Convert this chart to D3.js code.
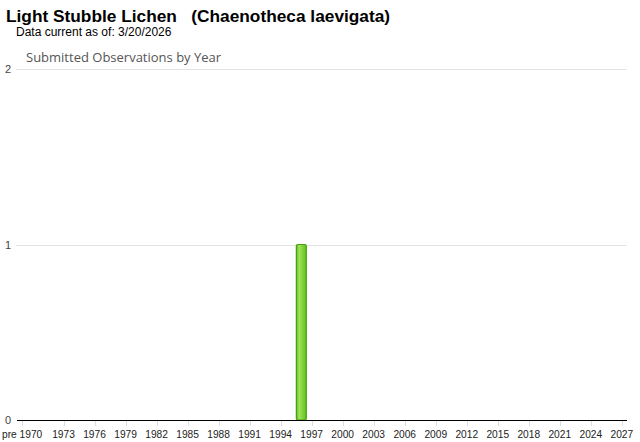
<!DOCTYPE html>
<html><head><meta charset="utf-8">
<script src="https://cdn.jsdelivr.net/npm/d3@7"></script>
<style>body{margin:0;background:#fff}svg{display:block}</style>
</head><body>
<svg id="chart" width="640" height="442"></svg>
<script>
const titleText = "Light Stubble Lichen\u00a0\u00a0\u00a0(Chaenotheca laevigata)";
const subtitleText = "Data current as of: 3/20/2026";
const axisTitle = "Submitted Observations by Year";
const years = ["pre 1970"];
for (let y = 1970; y <= 2027; y++) years.push(String(y));
const counts = years.map(y => y === "1996" ? 1 : 0);
const xTickLabels = ["pre 1970","1973","1976","1979","1982","1985","1988","1991","1994","1997","2000","2003","2006","2009","2012","2015","2018","2021","2024","2027"];
const yTicks = [0, 1, 2];

const svg = d3.select("#chart");
const x = d3.scaleBand().domain(years).range([17, 627]).padding(0);
const y = d3.scaleLinear().domain([0, 2]).range([420, 69]);

const defs = svg.append("defs");
const g = defs.append("linearGradient").attr("id","barg").attr("x1","0").attr("x2","1").attr("y1","0").attr("y2","0");
g.append("stop").attr("offset","0%").attr("stop-color","#5fbf1c");
g.append("stop").attr("offset","30%").attr("stop-color","#a2e262");
g.append("stop").attr("offset","55%").attr("stop-color","#88d541");
g.append("stop").attr("offset","100%").attr("stop-color","#62c21e");

svg.append("text").attr("x", 6).attr("y", 21.5)
  .attr("font-family","Arial, 'Liberation Sans', sans-serif").attr("font-weight","bold")
  .attr("font-size", 17.3).attr("fill","#000").text(titleText);
svg.append("text").attr("x", 16).attr("y", 36)
  .attr("font-family","Arial, 'Liberation Sans', sans-serif")
  .attr("font-size", 12).attr("fill","#000").text(subtitleText);
svg.append("text").attr("x", 26).attr("y", 62)
  .attr("font-family","'Open Sans', sans-serif")
  .attr("font-size", 13).attr("fill","#555").text(axisTitle);

// gridlines
svg.append("g").selectAll("line").data(yTicks.filter(d => d > 0)).join("line")
  .attr("x1", 16).attr("x2", 627)
  .attr("y1", d => Math.round(y(d)) + 0.5).attr("y2", d => Math.round(y(d)) + 0.5)
  .attr("stroke", "#e3e3e3");

// y labels
svg.append("g").selectAll("text").data(yTicks).join("text")
  .attr("x", 11).attr("y", d => y(d) + 4)
  .attr("text-anchor","end")
  .attr("font-family","Arial, 'Liberation Sans', sans-serif")
  .attr("font-size", 11).attr("fill","#444").text(d => d);

// x tick marks and labels
const xt = svg.append("g");
xt.selectAll("line").data(xTickLabels).join("line")
  .attr("x1", d => Math.round(x(d) + x.bandwidth()/2) + 0.5)
  .attr("x2", d => Math.round(x(d) + x.bandwidth()/2) + 0.5)
  .attr("y1", 421).attr("y2", 426).attr("stroke", "#ddd");
xt.selectAll("text").data(xTickLabels).join("text")
  .attr("x", d => d === "pre 1970" ? 2 : x(d) + x.bandwidth()/2)
  .attr("y", 438).attr("text-anchor", d => d === "pre 1970" ? "start" : "middle")
  .attr("font-family","Arial, 'Liberation Sans', sans-serif")
  .attr("font-size", 10.2).attr("fill","#222").text(d => d);

// bars
svg.append("g").selectAll("rect").data(years.map((yr,i)=>({yr, v: counts[i]})).filter(d => d.v > 0)).join("rect")
  .attr("x", d => x(d.yr) + 0.2).attr("width", x.bandwidth() - 0.4)
  .attr("y", d => y(d.v)).attr("height", d => y(0) - y(d.v))
  .attr("rx", 1.5)
  .attr("fill", "url(#barg)").attr("stroke", "#46a010").attr("stroke-width", 1.2);

// baseline
svg.append("line").attr("x1", 17).attr("x2", 627).attr("y1", 420.5).attr("y2", 420.5)
  .attr("stroke", "#000").attr("stroke-width", 1.2);
</script>
</body></html>
